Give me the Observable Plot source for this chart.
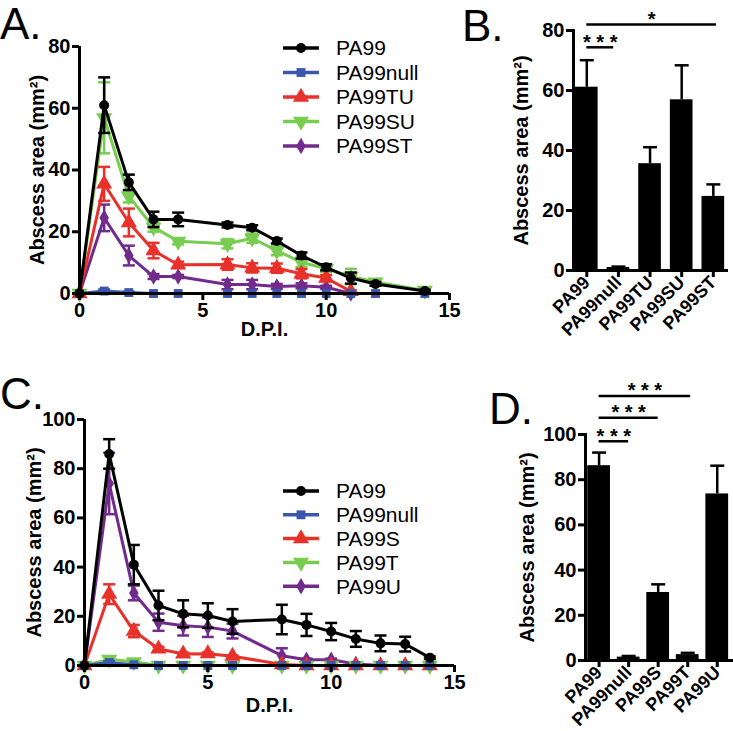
<!DOCTYPE html>
<html><head><meta charset="utf-8">
<style>
body{margin:0;width:733px;height:731px;position:relative;background:#fff;overflow:hidden;font-family:"Liberation Sans",Arial,sans-serif;}
.panel{position:absolute;}
.letter{position:absolute;font-size:44px;line-height:1;color:#000;}
.legend{position:absolute;}
</style>
<script src="https://cdn.jsdelivr.net/npm/d3@7"></script>
<script src="https://cdn.jsdelivr.net/npm/@observablehq/plot@0.6"></script>
</head><body>
<div class="panel" id="pA" style="left:0;top:0"></div>
<div class="panel" id="pB" style="left:460px;top:0"></div>
<div class="panel" id="pC" style="left:0;top:370px"></div>
<div class="panel" id="pD" style="left:460px;top:370px"></div>
<div class="letter" style="left:0px;top:2px">A.</div>
<div class="letter" style="left:462px;top:4px">B.</div>
<div class="letter" style="left:0px;top:372px">C.</div>
<div class="letter" style="left:489px;top:387px">D.</div>
<div class="legend" id="legA" style="left:270px;top:36px"></div>
<div class="legend" id="legC" style="left:270px;top:479px"></div>
<script>
// ---------- Panel A data ----------
const dpiA = [0,1,2,3,4,6,7,8,9,10,11,12,14];
const seriesA = ["PA99","PA99null","PA99TU","PA99SU","PA99ST"];
const valA_PA99 = [0,61,36,24,24,22.2,21.3,17,12.3,8.5,5,3.1,0.8];
const errA_PA99 = [0,9,2.5,2.5,2.2,0.8,0.8,0.8,1,1,1.8,0.6,0.4];
const valA_null = [0,0.8,0.3,0,0,0,0,0,0,0,0,0,0];
const errA_null = [0,0.5,0.3,0,0,0,0,0,0,0,0,0,0];
const valA_TU   = [0,35.5,23,13.9,9.3,9.4,8.3,8.2,6.4,5,0.7,null,null];
const errA_TU   = [0,5.5,4.5,2.5,1,1.7,1.5,1.5,1.5,1,0.3,null,null];
const valA_SU   = [0,56.9,31.5,21.5,16.9,16.1,17.9,13.9,10.1,8,5.5,3.7,1];
const errA_SU   = [0,11.5,2,1.5,1,1.5,1.5,1.5,1.5,1,2.5,0.8,1];
const valA_ST   = [0,24.5,12.3,5.5,5.5,2.9,2.9,2.3,2.5,2,0,null,null];
const errA_ST   = [0,4.3,3.2,0.8,0.5,1.5,1.5,0.8,0.8,0.5,0,null,null];

// ---------- Panel B data ----------
const barsB = ["PA99","PA99null","PA99TU","PA99SU","PA99ST"];
const valB = [61.1,1.0,35.6,56.9,24.7];
const errB = [9,0.3,5.5,11.5,4];
const sigB_from = [0,0];
const sigB_to = [0.85,4.1];
const sigB_level = [74.4,82];
const sigB_label = ["* * *","*"];

// ---------- Panel C data ----------
const dpiC = [0,1,2,3,4,5,6,8,9,10,11,12,13,14];
const seriesC = ["PA99","PA99null","PA99S","PA99T","PA99U"];
const valC_PA99 = [0,86,41,24.4,21,20.3,17.9,18.7,16.5,13.8,10.8,9,8.7,3.2];
const errC_PA99 = [0,6,8,6,5.5,5,5,6,4.5,3.5,3.2,3.2,3,0.5];
const valC_null = [0,1.2,0.3,0,0,0,0,0,0,0,0,0,0,0];
const errC_null = [0,0.5,0.2,0,0,0,0,0,0,0,0,0,0,0];
const valC_S    = [0,29,14,6.8,4.7,4.8,3.8,0.4,0,0,0,0,0,0];
const errC_S    = [0,4,2.5,0.8,0.5,0.5,0.3,0.2,0,0,0,0,0,0];
const valC_T    = [0,2.5,1.5,0,0,0,0,0,0,0,0,0,0,0];
const errC_T    = [0,1,0.8,0,0,0,0,0,0,0,0,0,0,0];
const valC_U    = [0,74,29.5,17.6,16.2,15.6,14,4,2.3,2.3,0.6,0,0,0];
const errC_U    = [0,12.5,3,3.5,4,4,3,3,0.5,0.5,0.3,0,0,0];

// ---------- Panel D data ----------
const barsD = ["PA99","PA99null","PA99S","PA99T","PA99U"];
const valD = [86.2,1.5,30.1,2.6,73.7];
const errD = [5.8,0.5,3.6,0.8,12.5];
const sigD_from = [0,0,0];
const sigD_to = [1,2,3.1];
const sigD_level = [97,107.4,117];
const sigD_label = ["* * *","* * *","* * *"];

// ---------- styling ----------
const colBlack="#000000", colBlue="#3a57ad", colRed="#e8312a", colGreen="#78cc50", colPurple="#702b8c";
const FONT = "Liberation Sans, Arial, sans-serif";
const TICK_FS = 20, TITLE_FS = 20, BARLAB_FS = 18, LEG_FS = 21, STAR_FS = 20;

const cap = {draw(ctx,size){const w=Math.sqrt(size/Math.PI); ctx.moveTo(-w,0); ctx.lineTo(w,0);}};
const triDown = {draw(ctx,size){const y=-Math.sqrt(size/(Math.sqrt(3)*3)); ctx.moveTo(0,-y*2); ctx.lineTo(-Math.sqrt(3)*y,y); ctx.lineTo(Math.sqrt(3)*y,y); ctx.closePath();}};

function seriesRows(dpi, vals, errs){
  const out=[];
  dpi.forEach((d,i)=>{ if(vals[i]!=null) out.push({dpi:d, v:vals[i], e:errs[i]||0}); });
  return out;
}

function seriesMarks(rows, color, symbol, r){
  const eb = rows.filter(d=>d.e>0);
  return [
    Plot.ruleX(eb,{x:"dpi", y1:d=>d.v-d.e, y2:d=>d.v+d.e, stroke:color, strokeWidth:2.5}),
    Plot.dot(eb,{x:"dpi", y:d=>d.v+d.e, symbol:cap, r:6, stroke:color, strokeWidth:2.5}),
    Plot.dot(eb,{x:"dpi", y:d=>d.v-d.e, symbol:cap, r:6, stroke:color, strokeWidth:2.5}),
    Plot.line(rows,{x:"dpi", y:"v", stroke:color, strokeWidth:3}),
    Plot.dot(rows,{x:"dpi", y:"v", symbol, r, fill:color, stroke:"none"})
  ];
}

function lineChart(o){
  return Plot.plot({
    width:o.width, height:o.height,
    marginLeft:o.ml, marginRight:o.mr, marginTop:o.mt, marginBottom:o.mb,
    style:{fontFamily:FONT, color:"#000", background:"transparent", overflow:"visible"},
    x:{domain:[0,15], axis:null},
    y:{domain:[0,o.yMax], axis:null},
    marks:[
      ...o.series.flatMap(s=>seriesMarks(s.rows, s.color, s.symbol, s.r)),
      Plot.ruleX([0],{strokeWidth:3}),
      Plot.ruleY([0],{strokeWidth:3}),
      Plot.axisY({ticks:o.yTicks, tickSize:7, tickPadding:2, strokeWidth:3, fontSize:TICK_FS, fontWeight:"bold", label:null}),
      Plot.axisX({ticks:[0,5,10,15], tickSize:7, tickPadding:2, strokeWidth:3, fontSize:TICK_FS, fontWeight:"bold", label:null}),
      Plot.text(["Abscess area (mm²)"],{frameAnchor:"left", textAnchor:"middle", rotate:-90, dx:o.titleDx, fontSize:TITLE_FS, fontWeight:"bold"}),
      Plot.text(["D.P.I."],{frameAnchor:"bottom", dy:o.dpiDy, fontSize:TITLE_FS, fontWeight:"bold"})
    ]
  });
}

function barChart(o){
  const rows = o.names.map((n,i)=>({i, n, v:o.vals[i], e:o.errs[i]}));
  const sig = o.sigFrom.map((a,k)=>({a, b:o.sigTo[k], y:o.sigLevel[k], label:o.sigLabel[k]}));
  const hw = o.halfWidth;
  return Plot.plot({
    width:o.width, height:o.height,
    marginLeft:o.ml, marginRight:o.mr, marginTop:o.mt, marginBottom:o.mb,
    style:{fontFamily:FONT, color:"#000", background:"transparent", overflow:"visible"},
    x:{domain:o.xDomain, axis:null},
    y:{domain:[0,o.yMax], axis:null},
    marks:[
      Plot.ruleX(rows,{x:"i", y1:"v", y2:d=>d.v+d.e, strokeWidth:2.5}),
      Plot.dot(rows,{x:"i", y:d=>d.v+d.e, symbol:cap, r:7, stroke:"#000", strokeWidth:2.5}),
      Plot.rectY(rows,{x1:d=>d.i-hw, x2:d=>d.i+hw, y1:0, y2:"v", fill:"#000"}),
      Plot.frame({anchor:"left", strokeWidth:3}),
      Plot.ruleY([0],{strokeWidth:3}),
      Plot.axisY({ticks:o.yTicks, tickSize:7, tickPadding:2, strokeWidth:3, fontSize:TICK_FS, fontWeight:"bold", label:null}),
      Plot.axisX({ticks:rows.map(d=>d.i), tickFormat:i=>o.names[i], tickRotate:-45, tickSize:7, tickPadding:2, strokeWidth:3, fontSize:BARLAB_FS, fontWeight:"bold", label:null}),
      Plot.ruleY(sig,{x1:"a", x2:"b", y:"y", strokeWidth:2.5}),
      Plot.text(sig,{x:d=>(d.a+d.b)/2, y:"y", text:"label", dy:-5, fontSize:STAR_FS, fontWeight:"bold"}),
      Plot.text(["Abscess area (mm²)"],{frameAnchor:"left", textAnchor:"middle", rotate:-90, dx:o.titleDx, fontSize:TITLE_FS, fontWeight:"bold"})
    ]
  });
}

function legend(id, names, colors, symbols, sizes, spacing){
  const h = spacing*names.length+10;
  const svg = d3.create("svg").attr("width",200).attr("height",h).style("overflow","visible");
  names.forEach((n,k)=>{
    const cy = 12 + k*spacing;
    const g = svg.append("g").attr("transform",`translate(0,${cy})`);
    g.append("line").attr("x1",13).attr("x2",49).attr("y1",0).attr("y2",0).attr("stroke",colors[k]).attr("stroke-width",3.5);
    g.append("path").attr("transform","translate(31,0)").attr("d",d3.symbol(symbols[k], Math.PI*sizes[k]*sizes[k])()).attr("fill",colors[k]);
    g.append("text").attr("x",66).attr("y",0).attr("dy","0.35em").attr("font-family",FONT).attr("font-size",LEG_FS).text(n);
  });
  document.getElementById(id).append(svg.node());
}

// ---------- build ----------
const symA = [d3.symbolCircle, d3.symbolSquare, d3.symbolTriangle, triDown, d3.symbolDiamond];
const colA = [colBlack, colBlue, colRed, colGreen, colPurple];
const rA = [5,5,6,6,5];

document.getElementById("pA").append(lineChart({
  width:460, height:345, ml:79, mr:11, mt:46, mb:52, yMax:80, yTicks:[0,20,40,60,80], titleDx:-42, dpiDy:42,
  series:[
    {rows:seriesRows(dpiA,valA_ST,errA_ST), color:colPurple, symbol:"diamond", r:5},
    {rows:seriesRows(dpiA,valA_SU,errA_SU), color:colGreen, symbol:triDown, r:6},
    {rows:seriesRows(dpiA,valA_TU,errA_TU), color:colRed, symbol:"triangle", r:6},
    {rows:seriesRows(dpiA,valA_null,errA_null), color:colBlue, symbol:"square", r:5},
    {rows:seriesRows(dpiA,valA_PA99,errA_PA99), color:colBlack, symbol:"circle", r:5}
  ]
}));

document.getElementById("pC").append(lineChart({
  width:460, height:361, ml:84, mr:6, mt:49, mb:66, yMax:100, yTicks:[0,20,40,60,80,100], titleDx:-50, dpiDy:46,
  series:[
    {rows:seriesRows(dpiC,valC_U,errC_U), color:colPurple, symbol:"diamond", r:5},
    {rows:seriesRows(dpiC,valC_T,errC_T), color:colGreen, symbol:triDown, r:6},
    {rows:seriesRows(dpiC,valC_S,errC_S), color:colRed, symbol:"triangle", r:6},
    {rows:seriesRows(dpiC,valC_null,errC_null), color:colBlue, symbol:"square", r:5},
    {rows:seriesRows(dpiC,valC_PA99,errC_PA99), color:colBlack, symbol:"circle", r:5}
  ]
}));

document.getElementById("pB").append(barChart({
  width:273, height:370, ml:113, mr:5, mt:30, mb:100, yMax:80, yTicks:[0,20,40,60,80],
  xDomain:[-0.42,4.48], halfWidth:0.358, names:barsB, vals:valB, errs:errB,
  sigFrom:sigB_from, sigTo:sigB_to, sigLevel:sigB_level, sigLabel:sigB_label, titleDx:-52
}));

document.getElementById("pD").append(barChart({
  width:273, height:361, ml:125, mr:0, mt:64, mb:71, yMax:100, yTicks:[0,20,40,60,80,100],
  xDomain:[-0.46,4.55], halfWidth:0.385, names:barsD, vals:valD, errs:errD,
  sigFrom:sigD_from, sigTo:sigD_to, sigLevel:sigD_level, sigLabel:sigD_label, titleDx:-58
}));

legend("legA", seriesA, colA, symA, rA, 24.5);
legend("legC", seriesC, colA, symA, rA, 23.8);
</script>
</body></html>
